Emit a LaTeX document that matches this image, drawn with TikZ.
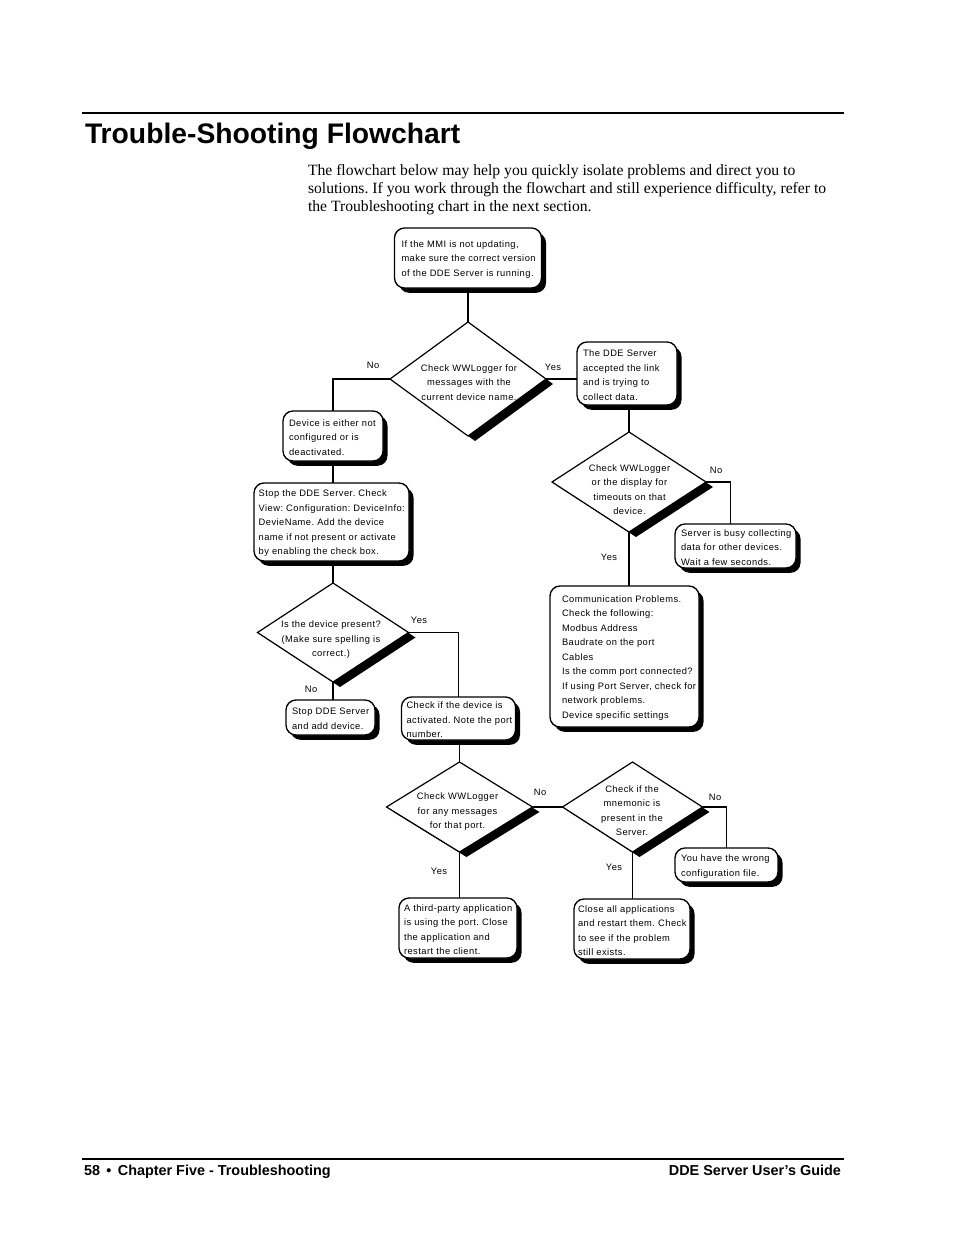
\documentclass[tikz,border=0pt]{standalone}
\usepackage{fontspec}
\setmainfont{Liberation Serif}
\newfontfamily\chartfont{Liberation Sans}[LetterSpace=5]
\newfontfamily\headfont{Liberation Sans}
\usetikzlibrary{shapes.geometric,shadows,calc}
\frenchspacing
\begin{document}
\frenchspacing
\begin{tikzpicture}[x=0.75pt,y=-0.75pt,
  every node/.style={inner sep=0pt, outer sep=0pt},
  cfont/.style={font=\chartfont\fontsize{7}{10.875}\selectfont},
  ctext/.style={cfont, align=left, anchor=west, yshift=-1.1pt},
  dtext/.style={cfont, align=center, yshift=-0.8pt},
  lbl/.style={cfont},
  sz/.style 2 args={minimum width=#1*0.75pt, minimum height=#2*0.75pt},
  rbox/.style={draw, line width=1pt, rounded corners=7.5pt, fill=white, rectangle,
     drop shadow={shadow xshift=3.4pt, shadow yshift=-3.6pt, fill=black, opacity=1}},
  dia/.style={draw, line width=0.9pt, diamond, fill=white,
     drop shadow={shadow xshift=5.25pt, shadow yshift=-3.75pt, fill=black, opacity=1}},
  conn/.style={line width=0.8pt}
]
\useasboundingbox[fill=white] (0,0) rectangle (954,1235);

% header
\draw[line width=0.8pt] (82,113) -- (844,113);
\node[font=\headfont\bfseries\fontsize{21.2}{25}\selectfont, anchor=base west] (title) at (85,143) {Trouble-Shooting Flowchart};
\node[font=\fontsize{11.75}{13.5}\selectfont, align=left, anchor=north west] (intro) at (308,164)
 {The flowchart below may help you quickly isolate problems and direct you to\\
  solutions. If you work through the flowchart and still experience difficulty, refer to\\
  the Troubleshooting chart in the next section.};

% boxes
\node[rbox, sz={147}{60}] (b1) at (468,258) {};
\node[ctext] (b1t) at ([xshift=5.25pt]b1.west) {If the MMI is not updating,\\make sure the correct version\\of the DDE Server is running.};

\node[dia, sz={156}{114}] (d1) at (468,379) {};
\node[dtext] (d1t) at (469,381.5) {Check WWLogger for\\messages with the\\current device name.};

\node[rbox, sz={100}{63}] (b2) at (627,373.5) {};
\node[ctext] (b2t) at ([xshift=4.5pt]b2.west) {The DDE Server\\accepted the link\\and is trying to\\collect data.};

\node[rbox, sz={100}{50}] (b3) at (333,436) {};
\node[ctext] (b3t) at ([xshift=4.5pt]b3.west) {Device is either not\\configured or is\\deactivated.};

\node[rbox, sz={155}{78}] (b4) at (331.5,522) {};
\node[ctext] (b4t) at ([xshift=3.5pt]b4.west) {Stop the DDE Server. Check\\View: Configuration: DeviceInfo:\\DevieName. Add the device\\name if not present or activate\\by enabling the check box.};

\node[dia, sz={154}{100}] (d2) at (629,482) {};
\node[dtext] (d2t) at (629.5,488.5) {Check WWLogger\\or the display for\\timeouts on that\\device.};

\node[rbox, sz={121}{44}] (b7) at (735.5,546) {};
\node[ctext] (b7t) at ([xshift=4.5pt]b7.west) {Server is busy collecting\\data for other devices.\\Wait a few seconds.};

\node[rbox, sz={149}{141}] (b11) at (624.5,656.5) {};
\node[ctext] (b11t) at ([xshift=9pt]b11.west) {Communication Problems.\\Check the following:\\Modbus Address\\Baudrate on the port\\Cables\\Is the comm port connected?\\If using Port Server, check for\\network problems.\\Device specific settings};

\node[dia, sz={151}{99}] (d3) at (333,632.5) {};
\node[dtext] (d3t) at (331,639) {Is the device present?\\(Make sure spelling is\\correct.)};

\node[rbox, sz={89}{35}] (b5) at (330.5,717.5) {};
\node[ctext] (b5t) at ([xshift=4.5pt]b5.west) {Stop DDE Server\\and add device.};

\node[rbox, sz={114}{43}] (b6) at (458.5,718.5) {};
\node[ctext] (b6t) at ([xshift=3.75pt]b6.west) {Check if the device is\\activated. Note the port\\number.};

\node[dia, sz={146}{90}] (d5) at (459.5,807) {};
\node[dtext] (d5t) at (457.5,811) {Check WWLogger\\for any messages\\for that port.};

\node[dia, sz={140}{90}] (d6) at (632.5,807) {};
\node[dtext] (d6t) at (632,809.5) {Check if the\\mnemonic is\\present in the\\Server.};

\node[rbox, sz={103}{34}] (b10) at (726.5,865) {};
\node[ctext] (b10t) at ([xshift=4.5pt]b10.west) {You have the wrong\\configuration file.};

\node[rbox, sz={118}{60}] (b8) at (458,928) {};
\node[ctext] (b8t) at ([xshift=3.75pt]b8.west) {A third-party application\\is using the port. Close\\the application and\\restart the client.};

\node[rbox, sz={116}{60}] (b9) at (632,929) {};
\node[ctext] (b9t) at ([xshift=3pt]b9.west) {Close all applications\\and restart them. Check\\to see if the problem\\still exists.};

% connectors
\draw[conn] (b1.south) -- (d1.north);
\draw[conn] (d1.east) -- (d1.east -| b2.west);
\draw[conn] (d1.west) -| (b3.north);
\draw[conn] (b3.south) -- (b3.south |- b4.north);
\draw[conn] (d3.north |- b4.south) -- (d3.north);
\draw[conn] (d3.south) -- (d3.south |- b5.north);
\draw[conn] (d3.east) -| (b6.north);
\draw[conn] (d5.north |- b6.south) -- (d5.north);
\draw[conn] (d5.east) -- (d6.west);
\draw[conn] (d5.south) -- (d5.south |- b8.north);
\draw[conn] (d6.south) -- (d6.south |- b9.north);
\draw[conn] (d6.east) -| (b10.north);
\draw[conn] (d2.north |- b2.south) -- (d2.north);
\draw[conn] (d2.east) -| ([xshift=-4.1pt]b7.north);
\draw[conn] (d2.south) -- (d2.south |- b11.north);

% labels
\node[lbl] (l1) at (373,365) {No};
\node[lbl] (l2) at (553,367) {Yes};
\node[lbl] (l3) at (716,470) {No};
\node[lbl] (l4) at (609,557) {Yes};
\node[lbl] (l5) at (419,620) {Yes};
\node[lbl] (l6) at (311,689) {No};
\node[lbl] (l7) at (540,792) {No};
\node[lbl] (l8) at (715,797) {No};
\node[lbl] (l9) at (439,871) {Yes};
\node[lbl] (l10) at (614,867) {Yes};

% footer
\draw[line width=1.4pt] (82,1159) -- (844,1159);
\node[font=\headfont\bfseries\fontsize{10.8}{13}\selectfont, anchor=base west] (fl) at (84,1175) {58 \,•\, Chapter Five - Troubleshooting};
\node[font=\headfont\bfseries\fontsize{10.8}{13}\selectfont, anchor=base east] (fr) at (841,1175) {DDE Server User’s Guide};
\end{tikzpicture}
\end{document}
